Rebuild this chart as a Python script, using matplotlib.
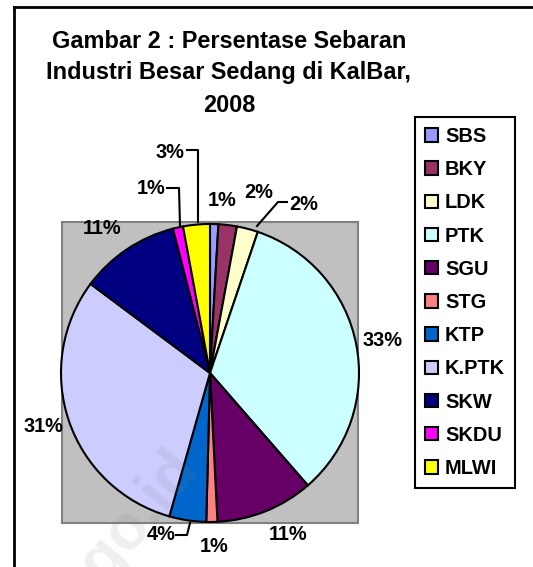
import matplotlib.pyplot as plt
from matplotlib.patches import Rectangle

# Data
regions = ["SBS", "BKY", "LDK", "PTK", "SGU", "STG", "KTP", "K.PTK", "SKW", "SKDU", "MLWI"]
shares = [0.9, 2.0, 2.3, 33.4, 10.6, 1.2, 4.0, 30.8, 10.8, 1.1, 2.9]
colors = ["#9999FF", "#993366", "#FFFFCC", "#CCFFFF", "#660066", "#FF8080",
          "#0066CC", "#CCCCFF", "#000080", "#FF00FF", "#FFFF00"]
title_lines = ["Gambar 2 : Persentase Sebaran", "Industri Besar Sedang di KalBar,", "2008"]

# Layout (pixel coords, y from top)
W, H = 533, 567
def Y(py):
    return H - py

label_pos = [(222, 200), (259, 193), (304, 205), (383, 340), (288, 535), (214, 547),
             (161, 535), (43, 426), (102, 228), (151, 189), (170, 152)]
leaders = [
    [(187, 150), (198, 150), (198, 222)],
    [(167, 188), (179, 188), (180, 226)],
    [(287, 202), (278, 202), (257, 226)],
    [(176, 535), (187, 535), (190, 523)],
]

plt.rcParams["font.family"] = ["Liberation Sans", "DejaVu Sans"]
fig = plt.figure(figsize=(W / 100, H / 100), dpi=100)
ax = fig.add_axes([0, 0, 1, 1])

# plot area
ax.add_patch(Rectangle((62, Y(523)), 296, 301, facecolor="#C0C0C0",
                       edgecolor="#808080", linewidth=1.5, zorder=0))

wedges, _ = ax.pie(shares, colors=colors, startangle=90, counterclock=False,
                   center=(210, Y(373)), radius=149,
                   wedgeprops=dict(edgecolor="black", linewidth=1.5))
for w in wedges:
    w.set_zorder(2)

for val, (px, py) in zip(shares, label_pos):
    ax.text(px, Y(py), f"{val:.0f}%", ha="center", va="center",
            fontsize=14.4, fontweight="bold", zorder=5)

for pts in leaders:
    ax.plot([p[0] for p in pts], [Y(p[1]) for p in pts], color="black", lw=1.5, zorder=4)

for i, line in enumerate(title_lines):
    ax.text(229, Y(41 + i * 32), line, ha="center", va="center",
            fontsize=16.9, fontweight="bold")

# watermark
ax.text(200, Y(468), "bps.go.id", rotation=50, rotation_mode="anchor",
        ha="right", va="baseline", fontsize=45, fontweight="bold",
        color="gray", alpha=0.13, zorder=6)

# chart border
ax.plot([14, W], [Y(7), Y(7)], color="black", lw=2)
ax.plot([14, 14], [Y(7), 0], color="black", lw=2)

leg = ax.legend(wedges, regions, loc="upper left",
                bbox_to_anchor=(415 / W, 1 - 117 / H),
                prop=dict(size=14.4, weight="bold"), frameon=True, fancybox=False,
                edgecolor="black", framealpha=1, handlelength=0.65, handleheight=0.65,
                handletextpad=0.35, labelspacing=0.71, borderpad=0.5, borderaxespad=0)
leg.get_frame().set_linewidth(1.5)

ax.set_xlim(0, W)
ax.set_ylim(0, H)
ax.set_axis_off()

fig.savefig("out.png", dpi=100, facecolor="white")
